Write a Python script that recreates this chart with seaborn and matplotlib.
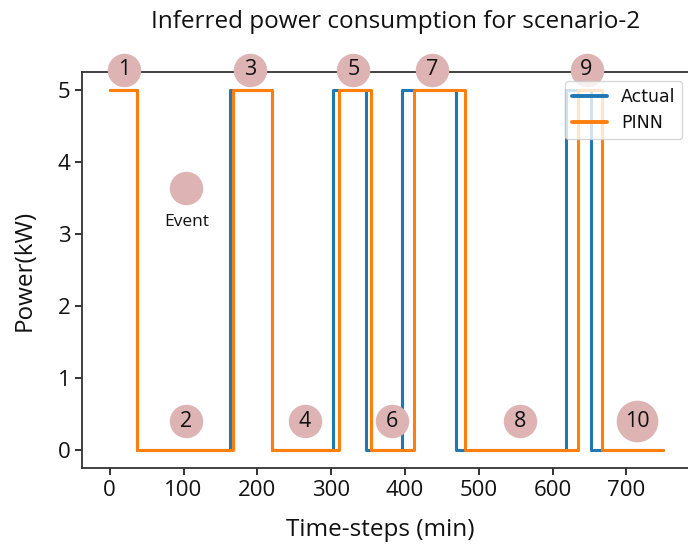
import matplotlib
matplotlib.use("Agg")
import matplotlib.pyplot as plt
import seaborn as sns
import pandas as pd

# ---- data ----
actual_t = [0, 37, 163, 220, 303, 347, 396, 469, 618, 652, 750]
actual_p = [5, 0, 5, 0, 5, 0, 5, 0, 5, 0, 0]
pinn_t = [0, 37, 167, 220, 310, 354, 412, 482, 634, 667, 750]
pinn_p = [5, 0, 5, 0, 5, 0, 5, 0, 5, 0, 0]

top_labels = ["1", "3", "5", "7", "9"]
top_x = [20, 190, 330, 437, 646]
bottom_labels = ["2", "4", "6", "8", "10"]
bottom_x = [103, 264, 382, 556, 715]
xticks = [0, 100, 200, 300, 400, 500, 600, 700]
yticks = [0, 1, 2, 3, 4, 5]

sns.set_theme(style="ticks")
plt.rcParams['font.family'] = ['Open Sans', 'DejaVu Sans']
plt.rcParams['text.color'] = '#111111'
plt.rcParams['axes.labelcolor'] = '#111111'

fig = plt.figure(figsize=(6.88, 5.46), dpi=100)
ax = fig.add_axes([82/688, 1-468/546, (691-82)/688, (468-72)/546])

df_a = pd.DataFrame({"t": actual_t, "p": actual_p})
df_p = pd.DataFrame({"t": pinn_t, "p": pinn_p})
sns.lineplot(data=df_a, x="t", y="p", ax=ax, drawstyle="steps-post",
             color="#1f77b4", lw=2.2, label="Actual", estimator=None)
sns.lineplot(data=df_p, x="t", y="p", ax=ax, drawstyle="steps-post",
             color="#ff7f0e", lw=2.2, label="PINN", estimator=None)

ax.set_xlim(-37.5, 787.5)
ax.set_ylim(-0.25, 5.25)
ax.set_xticks(xticks)
ax.set_yticks(yticks)
ax.tick_params(labelsize=16, length=5, width=1.3, colors="#222222", labelcolor="#111111")
for s in ax.spines.values():
    s.set_linewidth(1.3)
    s.set_color("#333333")
ax.spines["right"].set_visible(False)

circ_col = "#ddb3b3"
ytop = 5.28
ybot = 0.40
for lab, x in zip(top_labels, top_x):
    ax.scatter([x], [ytop], s=580, color=circ_col, clip_on=False, zorder=5, linewidths=0)
    ax.text(x, ytop, lab, ha="center", va="center", fontsize=15.5, zorder=6, clip_on=False)
for lab, x in zip(bottom_labels, bottom_x):
    sz = 900 if lab == "10" else 580
    ax.scatter([x], [ybot], s=sz, color=circ_col, clip_on=False, zorder=5, linewidths=0)
    ax.text(x, ybot, lab, ha="center", va="center", fontsize=15.5, zorder=6)
ax.scatter([104], [3.64], s=580, color=circ_col, zorder=5, linewidths=0)
ax.text(104, 3.17, "Event", ha="center", va="center", fontsize=12.5, zorder=6)

leg = ax.legend(loc="upper right", prop={"family": "DejaVu Sans", "size": 12.5},
                framealpha=0.8, borderaxespad=0.5)
for h in leg.get_lines():
    h.set_linewidth(2.8)

ax.set_xlabel("Time-steps (min)", fontsize=17.5, va="center")
ax.set_ylabel("Power(kW)", fontsize=17.5, va="center")
ax.xaxis.set_label_coords((380-82)/609, (468-530)/396)
ax.yaxis.set_label_coords((25-82)/609, 0.5)
fig.text(396/688, 1-22/546, "Inferred power consumption for scenario-2",
         ha="center", va="center", fontsize=17.5)

fig.savefig("out.png", dpi=100)
